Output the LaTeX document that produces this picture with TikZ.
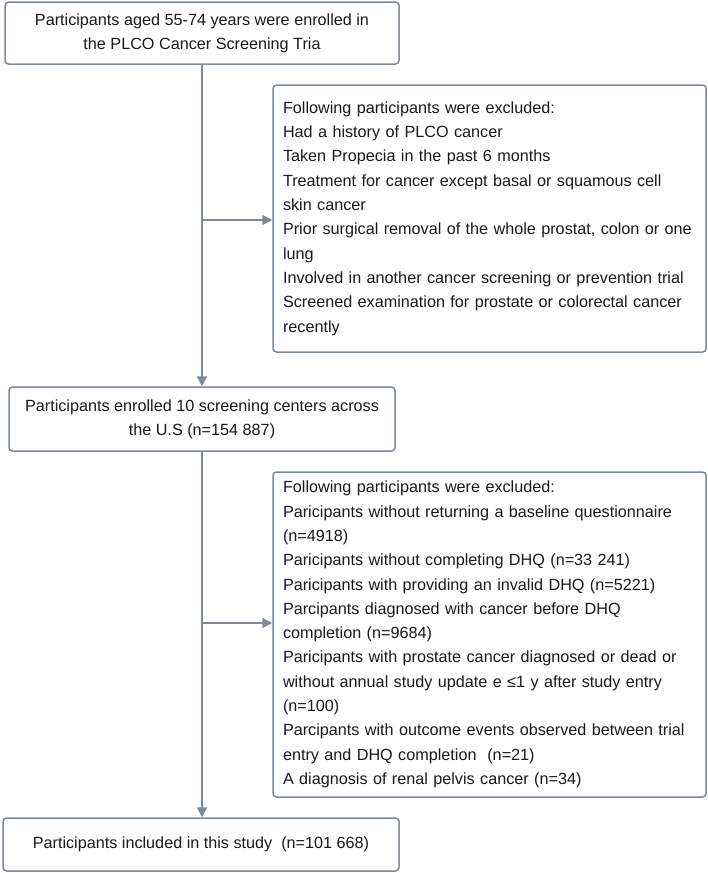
\documentclass[tikz,border=0pt]{standalone}
\usepackage{fontspec}
\setmainfont{Liberation Sans}
\usepackage{xcolor}
\usepackage{tikz}
\usetikzlibrary{arrows.meta}

\definecolor{boxline}{HTML}{7D8A9B}
\definecolor{boxtext}{HTML}{1A1A1A}

\tikzset{
  stepbox/.style={draw=boxline, line width=1.5pt, rounded corners=3.5pt, fill=white,
    inner sep=0pt, text=boxtext, font=\fontsize{16.2}{24.3}\selectfont},
  exclbox/.style={stepbox, minimum width=433pt, text width=413pt, align=left},
  flow/.style={draw=boxline, line width=1.8pt, -{Triangle[length=10pt, width=10pt]}},
}

\begin{document}
\begin{tikzpicture}[x=1pt, y=-1pt]
    \useasboundingbox (0,0) rectangle (708,873);

    % Enrolment
    \node[stepbox, minimum width=394pt, minimum height=62pt, align=center] (enrol) at (202,33)
        {Participants aged 55-74 years were enrolled in\\the PLCO Cancer Screening Tria};

    % First exclusions
    \node[exclbox, minimum height=267pt] (excl1) at (489.5,218.5)
        {Following participants were excluded:\\
         Had a history of PLCO cancer\\
         Taken Propecia in the past 6 months\\
         Treatment for cancer except basal or squamous cell\\
         skin cancer\\
         Prior surgical removal of the whole prostat, colon or one\\
         lung\\
         Involved in another cancer screening or prevention trial\\
         Screened examination for prostate or colorectal cancer\\
         recently};

    % Screening centres
    \node[stepbox, minimum width=386pt, minimum height=64pt, align=center] (centres) at (202,419)
        {Participants enrolled 10 screening centers across\\the U.S (n=154 887)};

    % Second exclusions
    \node[exclbox, minimum height=325pt] (excl2) at (489.5,634.5)
        {Following participants were excluded:\\
         Paricipants without returning a baseline questionnaire\\
         (n=4918)\\
         Paricipants without completing DHQ (n=33 241)\\
         Paricipants with providing an invalid DHQ (n=5221)\\
         Parcipants diagnosed with cancer before DHQ\\
         completion (n=9684)\\
         Paricipants with prostate cancer diagnosed or dead or\\
         without annual study update e ≤1 y after study entry\\
         (n=100)\\
         Parcipants with outcome events observed between trial\\
         entry and DHQ completion\ \ (n=21)\\
         A diagnosis of renal pelvis cancer (n=34)};

    % Final cohort
    \node[stepbox, minimum width=396pt, minimum height=53pt, align=center] (cohort) at (201,844.5)
        {Participants included in this study\ \ (n=101 668)};

    % Arrows
    \coordinate (branch1) at (202,220);
    \coordinate (branch2) at (202,623);
    \draw[flow] (enrol.south) -- (centres.north);
    \draw[flow] (branch1) -- (branch1 -| excl1.west);
    \draw[flow] (centres.south) -- (centres.south |- cohort.north);
    \draw[flow] (branch2) -- (branch2 -| excl2.west);
\end{tikzpicture}
\end{document}
